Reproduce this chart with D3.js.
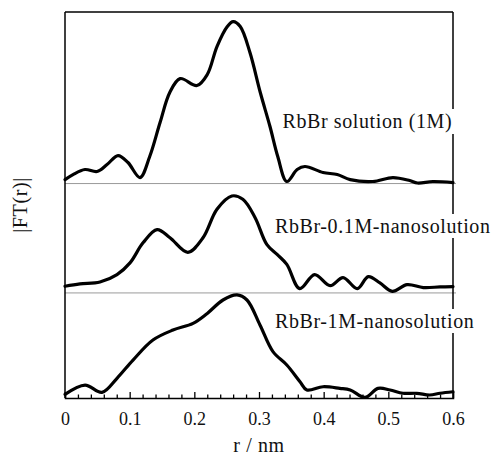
<!DOCTYPE html>
<html>
<head>
<meta charset="utf-8">
<script src="https://cdn.jsdelivr.net/npm/d3@7"></script>
<style>
  html, body { margin: 0; padding: 0; background: #fff; }
  svg { display: block; }
  svg text { font-family: "Liberation Serif", "Times New Roman", Times, serif !important; fill: #111; }
</style>
</head>
<body>
<svg id="chart" width="493" height="460"></svg>
<script>
// ---- data ----
const seriesNames = ["RbBr solution (1M)", "RbBr-0.1M-nanosolution", "RbBr-1M-nanosolution"];
const seriesOffsets = [2.0, 0.98, 0.0];

const solution1M = [
  [0, 0.037], [0.0124, 0.084], [0.0309, 0.131], [0.0495, 0.112], [0.065, 0.177],
  [0.082, 0.261], [0.0974, 0.196], [0.116, 0.056], [0.131, 0.252], [0.147, 0.569],
  [0.162, 0.849], [0.178, 0.979], [0.204, 0.914], [0.220, 1.017], [0.235, 1.278],
  [0.251, 1.465], [0.260, 1.511], [0.271, 1.465], [0.286, 1.222], [0.302, 0.849],
  [0.317, 0.532], [0.329, 0.252], [0.343, 0.019], [0.359, 0.131], [0.371, 0.159],
  [0.399, 0.103], [0.421, 0.084], [0.441, 0.037], [0.476, 0.019], [0.507, 0.056],
  [0.533, 0.028], [0.545, 0.005], [0.569, 0.019], [0.6, 0.009]
];
const nano01M = [
  [0, 0.062], [0.0232, 0.084], [0.0541, 0.102], [0.0804, 0.171], [0.1005, 0.280],
  [0.1206, 0.467], [0.1423, 0.591], [0.1624, 0.514], [0.190, 0.379], [0.2134, 0.514],
  [0.235, 0.780], [0.258, 0.904], [0.275, 0.873], [0.294, 0.702], [0.312, 0.453],
  [0.328, 0.359], [0.343, 0.266], [0.363, 0.040], [0.386, 0.171], [0.410, 0.068],
  [0.430, 0.143], [0.452, 0.040], [0.469, 0.152], [0.487, 0.093], [0.506, 0.014],
  [0.529, 0.077], [0.554, 0.050], [0.580, 0.056], [0.6, 0.059]
];
const nano1M = [
  [0, 0.034], [0.031, 0.121], [0.0572, 0.053], [0.0804, 0.184], [0.1052, 0.354],
  [0.136, 0.541], [0.167, 0.634], [0.198, 0.696], [0.220, 0.789], [0.2443, 0.914],
  [0.266, 0.961], [0.2814, 0.914], [0.3015, 0.681], [0.3216, 0.432], [0.343, 0.308],
  [0.3634, 0.152], [0.374, 0.075], [0.399, 0.105], [0.425, 0.090], [0.441, 0.075],
  [0.464, 0.005], [0.484, 0.090], [0.5026, 0.075], [0.5226, 0.044], [0.544, 0.044],
  [0.564, 0.028], [0.580, 0.044], [0.6, 0.058]
];
const seriesData = [solution1M, nano01M, nano1M];

const majorTicks = [0, 0.1, 0.2, 0.3, 0.4, 0.5, 0.6];
const majorTickLabels = ["0", "0.1", "0.2", "0.3", "0.4", "0.5", "0.6"];
const minorTicks = d3.range(0, 31).map(i => i * 0.02).filter(v => Math.round(v * 100) % 10 !== 0);
const xTitle = "r / nm";
const yTitle = "|FT(r)|";

// ---- layout ----
const FONT = '"Liberation Serif", "Times New Roman", Times, serif';
const svg = d3.select("#chart").style("font-family", FONT);
const L = 65, R = 453, T = 12, B = 398;
const x = d3.scaleLinear().domain([0, 0.6]).range([L, R]);
const y = d3.scaleLinear().domain([0, 3.6]).range([B, T]);

// separators
svg.selectAll("line.sep").data(seriesOffsets.filter(o => o > 0)).join("line")
  .attr("class", "sep")
  .attr("x1", L).attr("x2", R + 3)
  .attr("y1", d => y(d)).attr("y2", d => y(d))
  .attr("stroke", "#9a9a9a").attr("stroke-width", 1);

// curves
const line = d3.line().curve(d3.curveCatmullRom.alpha(0.5));
svg.selectAll("path.curve").data(seriesData).join("path")
  .attr("class", "curve")
  .attr("fill", "none")
  .attr("stroke", "#000")
  .attr("stroke-width", 3.2)
  .attr("stroke-linejoin", "round")
  .attr("stroke-linecap", "round")
  .attr("d", (d, i) => line(d.map(p => [x(p[0]), y(p[1] + seriesOffsets[i])])));

// frame
svg.append("line").attr("x1", L).attr("x2", R).attr("y1", T).attr("y2", T)
  .attr("stroke", "#000").attr("stroke-width", 1.5);
svg.append("line").attr("x1", R).attr("x2", R).attr("y1", T).attr("y2", B)
  .attr("stroke", "#000").attr("stroke-width", 1.5);
svg.append("line").attr("x1", L).attr("x2", L).attr("y1", T).attr("y2", B)
  .attr("stroke", "#000").attr("stroke-width", 1.5);

// x axis
const axMajor = d3.axisBottom(x).tickValues(majorTicks)
  .tickFormat((d, i) => majorTickLabels[i]).tickSize(-6).tickPadding(14);
const gx = svg.append("g").attr("transform", `translate(0,${B})`).call(axMajor);
gx.attr("font-family", null).style("font-family", FONT).attr("font-size", 18);
gx.select(".domain").attr("stroke", "#000").attr("stroke-width", 1.5);
gx.selectAll(".tick line").attr("stroke", "#000").attr("stroke-width", 1.3);
gx.selectAll(".tick text").style("font-family", FONT).style("font-size", "18px").attr("fill", "#111");
const axMinor = d3.axisBottom(x).tickValues(minorTicks).tickFormat("").tickSize(-3.5);
const gm = svg.append("g").attr("transform", `translate(0,${B})`).call(axMinor);
gm.select(".domain").remove();
gm.selectAll(".tick line").attr("stroke", "#000").attr("stroke-width", 1.3);

// axis titles
svg.append("text").attr("x", (L + R) / 2).attr("y", 452)
  .attr("text-anchor", "middle").style("font-size", "20px").attr("letter-spacing", 0.6)
  .text(xTitle);
svg.append("text").attr("transform", "translate(27,205) rotate(-90)")
  .attr("text-anchor", "middle").style("font-size", "20px").attr("letter-spacing", 0.6)
  .text(yTitle);

// series labels with white background
const labelPos = [[282.5, 128], [275, 233], [275, 328]];
seriesNames.forEach((name, i) => {
  const g = svg.append("g");
  const t = g.append("text").attr("x", labelPos[i][0]).attr("y", labelPos[i][1])
    .style("font-size", "20px").attr("letter-spacing", 0.6).text(name);
  const bb = t.node().getBBox();
  g.insert("rect", "text").attr("x", bb.x - 2).attr("y", bb.y - 1)
    .attr("width", bb.width + 4).attr("height", bb.height + 2).attr("fill", "#fff");
});
</script>
</body>
</html>
